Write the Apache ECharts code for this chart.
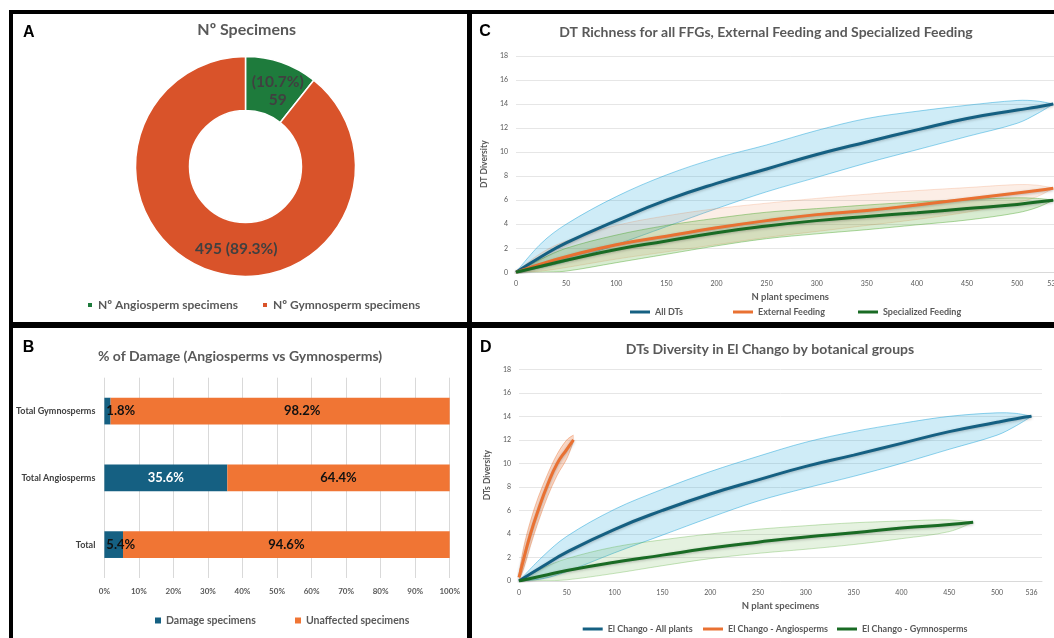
<!DOCTYPE html>
<html>
<head>
<meta charset="utf-8">
<script src="https://cdn.jsdelivr.net/npm/echarts@6/dist/echarts.min.js"></script>
<style>
  html, body { margin: 0; padding: 0; background: #fff; }
  body { width: 1054px; height: 638px; overflow: hidden; position: relative; }
  .line { position: absolute; background: #000; }
  .panel { position: absolute; }
</style>
</head>
<body>
<div class="line" style="left:9px;top:10px;width:1100px;height:4px"></div>
<div class="line" style="left:9px;top:10px;width:4px;height:700px"></div>
<div class="line" style="left:467px;top:10px;width:5px;height:700px"></div>
<div class="line" style="left:9px;top:322px;width:1100px;height:6px"></div>

<div id="panelA" class="panel" style="left:13px;top:14px;width:454px;height:308px"></div>
<div id="panelC" class="panel" style="left:472px;top:14px;width:620px;height:308px"></div>
<div id="panelB" class="panel" style="left:13px;top:328px;width:454px;height:310px"></div>
<div id="panelD" class="panel" style="left:472px;top:328px;width:582px;height:310px"></div>

<script>
// ---- A: specimens donut
const donutNames = ['Nº Angiosperm specimens', 'Nº Gymnosperm specimens'];
const donutValues = [59, 495];
const donutLabels = ['(10.7%)\n59', '495 (89.3%)'];

// ---- B: % of damage
const damageCats = ['Total', 'Total Angiosperms', 'Total Gymnosperms'];
const damagePct = [5.4, 35.6, 1.8];
const unaffectedPct = [94.6, 64.4, 98.2];

// ---- C: DT richness (rarefaction, mean and bounds)
const cX = [0, 25, 50, 100, 150, 200, 250, 300, 350, 400, 450, 500, 520, 536];
const allDtMean = [0, 1.3, 2.45, 4.3, 6.0, 7.4, 8.6, 9.8, 10.85, 11.85, 12.8, 13.5, 13.75, 14.0];
const allDtHigh = [0, 2.4, 4.0, 6.3, 8.1, 9.5, 10.6, 11.8, 12.8, 13.4, 13.9, 14.3, 14.25, 14.0];
const allDtLow  = [0, 0.4, 0.9, 2.3, 3.8, 5.3, 6.7, 7.9, 9.1, 10.2, 11.3, 12.4, 13.2, 14.0];
const extMean = [0, 0.7, 1.3, 2.3, 3.0, 3.7, 4.3, 4.8, 5.15, 5.6, 6.1, 6.6, 6.8, 7.0];
const extHigh = [0, 1.6, 2.6, 3.9, 4.7, 5.3, 5.75, 6.15, 6.5, 6.8, 7.05, 7.3, 7.25, 7.0];
const extLow  = [0, 0.1, 0.4, 1.1, 1.7, 2.3, 2.9, 3.4, 3.9, 4.4, 5.0, 5.8, 6.3, 7.0];
const specMean = [0, 0.5, 1.0, 1.9, 2.6, 3.3, 3.85, 4.3, 4.65, 4.95, 5.3, 5.65, 5.85, 6.0];
const specHigh = [0, 1.1, 2.0, 3.1, 3.9, 4.5, 5.0, 5.3, 5.6, 5.85, 6.05, 6.2, 6.15, 6.0];
const specLow  = [0, 0.0, 0.1, 0.8, 1.5, 2.2, 2.8, 3.2, 3.55, 3.95, 4.35, 4.95, 5.4, 6.0];

// ---- D: El Chango by botanical group
const dAllX = [0, 25, 50, 100, 150, 200, 250, 300, 350, 400, 450, 500, 520, 536];
const dAllMean = [0, 1.25, 2.45, 4.4, 6.0, 7.4, 8.6, 9.75, 10.7, 11.7, 12.7, 13.5, 13.8, 14.0];
const dAllHigh = [0, 2.1, 3.8, 6.1, 7.8, 9.3, 10.6, 11.8, 12.7, 13.4, 14.0, 14.3, 14.25, 14.0];
const dAllLow  = [0, 0.2, 0.8, 2.4, 3.9, 5.4, 6.8, 7.9, 8.9, 10.0, 11.2, 12.4, 13.2, 14.0];
const dAngX = [0, 5, 12, 20, 30, 40, 50, 57];
const dAngMean = [0.3, 1.9, 4.0, 6.0, 8.2, 10.0, 11.2, 12.0];
const dAngHigh = [0.6, 2.9, 5.1, 7.1, 9.1, 10.8, 12.0, 12.4];
const dAngLow  = [0.1, 1.1, 3.0, 5.0, 7.2, 9.0, 10.4, 11.9];
const dGymX = [0, 25, 50, 100, 150, 200, 250, 300, 350, 400, 450, 475];
const dGymMean = [0, 0.45, 0.9, 1.6, 2.2, 2.8, 3.3, 3.75, 4.1, 4.5, 4.8, 5.0];
const dGymHigh = [0, 1.1, 1.9, 2.9, 3.5, 4.0, 4.4, 4.7, 4.95, 5.1, 5.2, 5.0];
const dGymLow  = [0, 0.0, 0.1, 0.65, 1.3, 1.9, 2.35, 2.7, 3.1, 3.6, 4.2, 5.0];

const xTickValues = [0, 50, 100, 150, 200, 250, 300, 350, 400, 450, 500, 536];

const FONT = 'Lato, "Open Sans", sans-serif';
const GREY = '#595959';

function label(text, x, y, size, color, family) {
  return {
    type: 'text', x, y, silent: true,
    style: {
      text, fill: color || GREY, fontSize: size, fontWeight: 'bold',
      fontFamily: family || FONT, align: 'center', verticalAlign: 'middle'
    }
  };
}

function legendItem(name, left, top, opts) {
  return Object.assign({
    data: [name], left, top, padding: 0, itemGap: 0, selectedMode: false,
    icon: 'rect', itemWidth: 20, itemHeight: 3,
    textStyle: { color: GREY, fontSize: 9, fontWeight: 'bold', fontFamily: FONT }
  }, opts || {});
}

function pairs(xs, ys) { return xs.map((x, i) => [x, ys[i]]); }

// confidence band: polygon between the high and low bounds, placed with the axis scales
function bandSeries(xs, low, high, fill, edge) {
  return {
    type: 'custom', silent: true, animation: false, clip: true,
    data: [[xs[0], low[0]]],
    renderItem: (params, api) => {
      const top = xs.map((x, i) => api.coord([x, high[i]]));
      const bot = xs.map((x, i) => api.coord([x, low[i]]));
      return {
        type: 'group',
        children: [
          { type: 'polygon', shape: { points: top.concat(bot.slice().reverse()), smooth: 0.35 },
            style: { fill, stroke: null } },
          { type: 'polyline', shape: { points: top, smooth: 0.35 },
            style: { stroke: edge, lineWidth: 0.9, fill: null } },
          { type: 'polyline', shape: { points: bot, smooth: 0.35 },
            style: { stroke: edge, lineWidth: 0.9, fill: null } }
        ]
      };
    }
  };
}

function meanSeries(name, xs, ys, color) {
  return {
    name, type: 'line', data: pairs(xs, ys), color, smooth: 0.5,
    showSymbol: false, silent: true, animation: false, emphasis: { disabled: true },
    lineStyle: { color, width: 3, shadowColor: 'rgba(0,0,0,0.25)', shadowBlur: 3, shadowOffsetY: 1 }
  };
}

function curveAxes(grid, yName, nameGapX, nameGapY) {
  return {
    grid: Object.assign({ containLabel: false }, grid),
    xAxis: {
      type: 'value', min: 0, max: 547,
      name: 'N plant specimens', nameLocation: 'middle', nameGap: nameGapX,
      nameTextStyle: { color: GREY, fontSize: 9.5, fontWeight: 'bold', fontFamily: FONT },
      axisLine: { lineStyle: { color: '#d9d9d9' } },
      axisTick: { show: false },
      splitLine: { show: false },
      axisLabel: { customValues: xTickValues, color: GREY, fontSize: 7, margin: 8, fontFamily: FONT }
    },
    yAxis: {
      type: 'value', min: 0, max: 18, interval: 2,
      name: yName, nameLocation: 'middle', nameGap: nameGapY,
      nameTextStyle: { color: GREY, fontSize: 8.5, fontWeight: 'bold', fontFamily: FONT },
      axisLine: { show: false }, axisTick: { show: false },
      splitLine: { lineStyle: { color: '#e6e6e6' } },
      axisLabel: { color: GREY, fontSize: 7, margin: 8, fontFamily: FONT }
    }
  };
}

// ---------------- A
const donutColors = ['#1E7B3C', '#D9532A'];
const donutOffsets = [[4, 6], [19, 1]];
const chartA = echarts.init(document.getElementById('panelA'));
chartA.setOption({
  animation: false,
  graphic: [
    label('A', 15.8, 18.8, 16, '#000', 'Liberation Sans, Arial, sans-serif'),
    label('Nº Specimens', 233.7, 16, 16)
  ],
  legend: [
    legendItem(donutNames[0], 73, 285, { icon: 'rect', itemWidth: 6, itemHeight: 6,
      textStyle: { color: GREY, fontSize: 12, fontWeight: 'bold', fontFamily: FONT } }),
    legendItem(donutNames[1], 248, 285, { icon: 'rect', itemWidth: 6, itemHeight: 6,
      textStyle: { color: GREY, fontSize: 12, fontWeight: 'bold', fontFamily: FONT } })
  ],
  series: [{
    type: 'pie', center: [232.5, 152.5], radius: [56, 110],
    startAngle: 90, clockwise: true, silent: true,
    itemStyle: { borderColor: '#fff', borderWidth: 1.5 },
    labelLine: { show: false },
    label: { position: 'inside', color: '#404040', fontSize: 15.5, fontWeight: 'bold',
      fontFamily: FONT, lineHeight: 18 },
    data: donutNames.map((n, i) => ({
      name: n, value: donutValues[i],
      itemStyle: { color: donutColors[i] },
      label: { formatter: donutLabels[i], offset: donutOffsets[i] }
    }))
  }]
});

// ---------------- B
const chartB = echarts.init(document.getElementById('panelB'));
const barLabel = { show: true, fontSize: 13, fontWeight: 'bold', fontFamily: FONT,
  formatter: p => p.value.toFixed(1) + '%' };
chartB.setOption({
  animation: false,
  graphic: [
    label('B', 15.5, 19.2, 16, '#000', 'Liberation Sans, Arial, sans-serif'),
    label('% of Damage (Angiosperms vs Gymnosperms)', 227, 28.7, 14)
  ],
  legend: [
    legendItem('Damage specimens', 142, 287, { icon: 'rect', itemWidth: 6, itemHeight: 6,
      textStyle: { color: GREY, fontSize: 10.5, fontWeight: 'bold', fontFamily: FONT } }),
    legendItem('Unaffected specimens', 282, 287, { icon: 'rect', itemWidth: 6, itemHeight: 6,
      textStyle: { color: GREY, fontSize: 10.5, fontWeight: 'bold', fontFamily: FONT } })
  ],
  grid: { left: 88.7, top: 49.7, width: 348, height: 200.3, containLabel: false },
  xAxis: {
    type: 'value', min: 0, max: 100, interval: 10,
    axisLine: { show: false }, axisTick: { show: false },
    splitLine: { lineStyle: { color: '#d9d9d9' } },
    axisLabel: { formatter: '{value}%', color: GREY, fontSize: 8, fontWeight: 'bold',
      fontFamily: FONT, margin: 9 }
  },
  yAxis: {
    type: 'category', data: damageCats,
    axisLine: { show: false }, axisTick: { show: false },
    axisLabel: { color: '#404040', fontSize: 9, fontWeight: 'bold', fontFamily: FONT, margin: 9 }
  },
  series: [
    {
      name: 'Damage specimens', type: 'bar', stack: 'all', barWidth: 26.7, color: '#156082',
      silent: true,
      label: barLabel,
      data: damagePct.map(v => ({
        value: v,
        label: v > 10
          ? { position: 'inside', color: '#fff' }
          : { position: 'insideLeft', distance: 2, color: '#111' }
      }))
    },
    {
      name: 'Unaffected specimens', type: 'bar', stack: 'all', barWidth: 26.7, color: '#F07534',
      silent: true,
      label: Object.assign({ position: 'inside', color: '#111' }, barLabel),
      data: unaffectedPct.map(v => ({
        value: v,
        label: v > 97 ? { offset: [22, 0] } : {}
      }))
    }
  ]
});

// ---------------- C
const chartC = echarts.init(document.getElementById('panelC'));
chartC.setOption(Object.assign({
  animation: false,
  graphic: [
    label('C', 13, 18, 16, '#000', 'Liberation Sans, Arial, sans-serif'),
    label('DT Richness for all FFGs, External Feeding and Specialized Feeding', 294, 18.7, 14)
  ],
  legend: [
    legendItem('All DTs', 158, 293.5),
    legendItem('External Feeding', 261, 293.5),
    legendItem('Specialized Feeding', 386, 293.5)
  ],
  series: [
    bandSeries(cX, allDtLow, allDtHigh, 'rgba(15,158,213,0.2)', 'rgba(15,158,213,0.5)'),
    bandSeries(cX, extLow, extHigh, 'rgba(233,113,50,0.12)', 'rgba(233,113,50,0.22)'),
    bandSeries(cX, specLow, specHigh, 'rgba(78,167,46,0.22)', 'rgba(78,167,46,0.5)'),
    meanSeries('All DTs', cX, allDtMean, '#156082'),
    meanSeries('External Feeding', cX, extMean, '#E97132'),
    meanSeries('Specialized Feeding', cX, specMean, '#196B24')
  ]
}, curveAxes({ left: 31.3, top: 42, width: 561, height: 216.3 }, 'DT Diversity', 14, 20)));

// ---------------- D
const chartD = echarts.init(document.getElementById('panelD'));
chartD.setOption(Object.assign({
  animation: false,
  graphic: [
    label('D', 13.7, 19.3, 16, '#000', 'Liberation Sans, Arial, sans-serif'),
    label('DTs Diversity in El Chango by botanical groups', 298, 21, 14)
  ],
  legend: [
    legendItem('El Chango - All plants', 110.7, 296.5),
    legendItem('El Chango - Angiosperms', 231, 296.5),
    legendItem('El Chango - Gymnosperms', 365, 296.5)
  ],
  series: [
    bandSeries(dAllX, dAllLow, dAllHigh, 'rgba(15,158,213,0.2)', 'rgba(15,158,213,0.5)'),
    bandSeries(dGymX, dGymLow, dGymHigh, 'rgba(78,167,46,0.15)', 'rgba(78,167,46,0.35)'),
    bandSeries(dAngX, dAngLow, dAngHigh, 'rgba(233,113,50,0.28)', 'rgba(233,113,50,0.45)'),
    meanSeries('El Chango - All plants', dAllX, dAllMean, '#156082'),
    meanSeries('El Chango - Angiosperms', dAngX, dAngMean, '#E97132'),
    meanSeries('El Chango - Gymnosperms', dGymX, dGymMean, '#196B24')
  ]
}, curveAxes({ left: 47, top: 41.3, width: 523, height: 211.7 }, 'DTs Diversity', 19.5, 20.5)));
</script>
</body>
</html>
